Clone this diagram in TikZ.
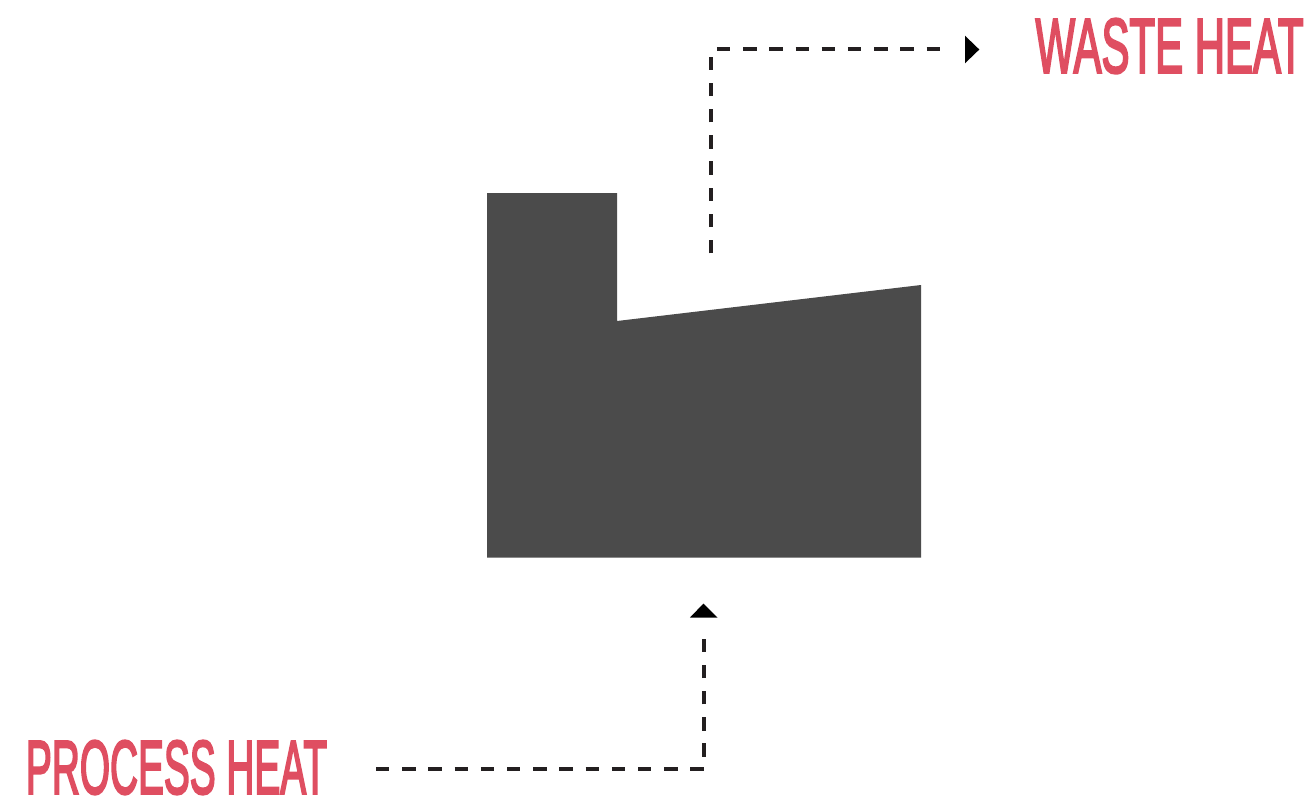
\documentclass[tikz,border=0pt]{standalone}
\usepackage{fontspec}
\setmainfont{Liberation Sans}
\newfontfamily\labfont[FakeBold=3.5]{Liberation Sans}
\definecolor{heat}{HTML}{DF4E61}
\definecolor{plant}{HTML}{4B4B4B}
\definecolor{dashc}{HTML}{231F20}
\begin{document}
\begin{tikzpicture}[x=1pt,y=-1pt,
 lab/.style={text=heat,inner sep=0pt,font=\labfont\fontsize{60}{60}\selectfont},
 flow/.style={draw=dashc,line width=4pt,dash pattern=on 13.4pt off 12.8pt},
 tip/.style={fill=black,draw=none}]
\useasboundingbox (0,0) rectangle (1312,796);
\fill[plant] (487,193) -- (617,193) -- (617,321) -- (921,285) -- (921,557.5) -- (487,557.5) -- cycle;
\node[lab,anchor=center] (waste) at (1169.5,46) {\resizebox{268pt}{54pt}{WASTE HEAT}};
\node[lab,anchor=center] (process) at (176.5,767.5) {\resizebox{301pt}{53pt}{PROCESS HEAT}};
\coordinate (s1) at (711.3,253.3);
\coordinate (c1) at (711.3,49.3);
\coordinate (e1) at (940.5,49.3);
\coordinate (s2) at (376,769.3);
\coordinate (c2) at (704,769.3);
\coordinate (e2) at (704,638.7);
\draw[flow] (s1) -- (c1) -- (e1);
\draw[flow] (s2) -- (c2) -- (e2);
\fill[tip] (965,35.7) -- (979.3,49.5) -- (965,63.3) -- cycle;
\fill[tip] (689.8,617.7) -- (703.5,603.5) -- (717.5,617.7) -- cycle;
\end{tikzpicture}
\end{document}
